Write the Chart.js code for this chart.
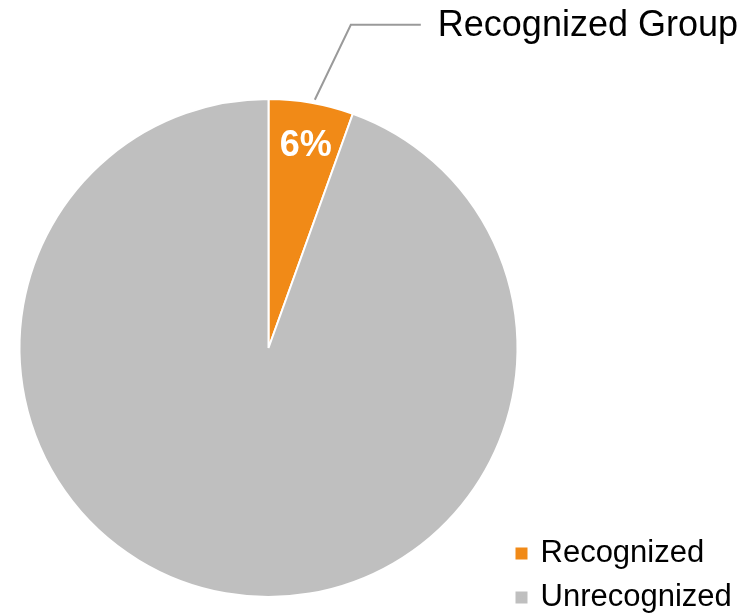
<!DOCTYPE html>
<html>
<head>
<meta charset="utf-8">
<script src="https://cdn.jsdelivr.net/npm/chart.js@4/dist/chart.umd.min.js"></script>
<style>
  html, body { margin: 0; padding: 0; background: #ffffff; overflow: hidden; width: 756px; height: 614px; }
  #wrap { position: absolute; left: 0; top: 0; width: 756px; height: 640px; }
</style>
</head>
<body>
<div id="wrap"><canvas id="c" width="756" height="640"></canvas></div>
<script>
const categories = ['Recognized', 'Unrecognized'];
const shareValues = [5.5, 94.5];
const sliceColors = ['#F18A17', '#BFBFBF'];
const calloutLabels = ['Recognized Group', ''];

const FONT = "'Liberation Sans', Arial, Helvetica, sans-serif";

const labelPlugin = {
  id: 'sliceLabels',
  afterDatasetsDraw(chart) {
    const ctx = chart.ctx;
    const meta = chart.getDatasetMeta(0);
    const data = chart.data.datasets[0].data;
    const total = data.reduce((a, b) => a + b, 0);
    meta.data.forEach((arc, i) => {
      const p = arc.getProps(['x', 'y', 'startAngle', 'endAngle', 'outerRadius'], true);
      const mid = (p.startAngle + p.endAngle) / 2;
      if (calloutLabels[i]) {
        // percentage inside slice
        const d = p.outerRadius * 0.825;
        const tx = p.x + Math.cos(mid) * d + 2;
        const ty = p.y + Math.sin(mid) * d;
        ctx.save();
        ctx.fillStyle = '#ffffff';
        ctx.font = 'bold 36px ' + FONT;
        ctx.textAlign = 'center';
        ctx.textBaseline = 'middle';
        ctx.fillText(Math.round(data[i] / total * 100) + '%', tx, ty);
        // leader line
        const sx = p.x + Math.cos(mid) * (p.outerRadius + 3) + 3;
        const sy = p.y + Math.sin(mid) * (p.outerRadius + 3);
        const ex = sx + 36, ey = sy - 75;
        ctx.strokeStyle = '#9a9a9a';
        ctx.lineWidth = 2;
        ctx.beginPath();
        ctx.moveTo(sx, sy);
        ctx.lineTo(ex, ey);
        ctx.lineTo(ex + 70, ey);
        ctx.stroke();
        ctx.fillStyle = '#000000';
        ctx.font = '36px ' + FONT;
        ctx.textAlign = 'left';
        ctx.textBaseline = 'middle';
        ctx.fillText(calloutLabels[i], ex + 87, ey + 1);
        ctx.restore();
      }
    });
  }
};

new Chart(document.getElementById('c'), {
  type: 'pie',
  data: {
    labels: categories,
    datasets: [{
      data: shareValues,
      backgroundColor: sliceColors,
      borderColor: '#ffffff',
      borderWidth: 2,
      radius: 249
    }]
  },
  options: {
    responsive: false,
    animation: false,
    devicePixelRatio: 1,
    layout: { padding: { left: 32, right: 15, top: 70, bottom: 14 } },
    plugins: {
      tooltip: { enabled: false },
      legend: {
        position: 'right',
        align: 'end',
        maxWidth: 236,
        labels: {
          color: '#000000',
          font: { family: FONT, size: 31 },
          boxWidth: 7,
          boxHeight: 7,
          padding: 13,
          generateLabels(chart) {
            const items = Chart.overrides.pie.plugins.legend.labels.generateLabels(chart);
            return items.map(it => Object.assign(it, { strokeStyle: it.fillStyle, lineWidth: 5 }));
          }
        }
      }
    }
  },
  plugins: [labelPlugin]
});
</script>
</body>
</html>
